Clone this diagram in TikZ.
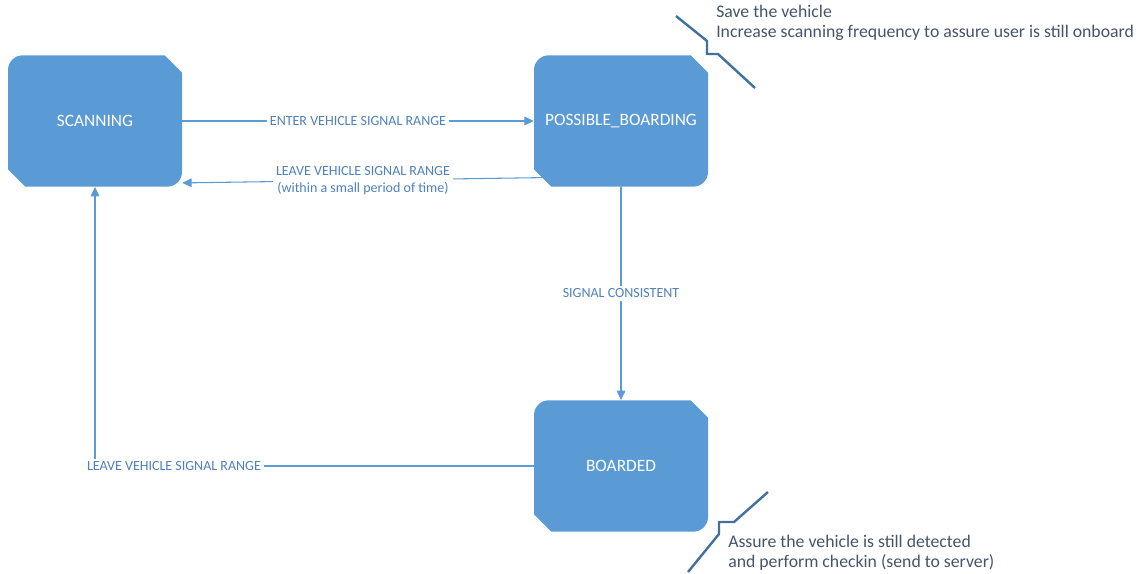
\documentclass[tikz,border=0pt]{standalone}
\usepackage{fontspec}
\setmainfont{Carlito}
\usetikzlibrary{arrows.meta}
\definecolor{boxblue}{RGB}{91,155,213}
\definecolor{lineblue}{RGB}{91,155,213}
\definecolor{labelblue}{RGB}{79,129,189}
\definecolor{noteblue}{RGB}{65,113,156}
\definecolor{notetext}{RGB}{68,84,106}
\begin{document}
\begin{tikzpicture}[x=0.75pt,y=-0.75pt,line cap=round,line join=round,>={Triangle[length=7pt,width=6.5pt]},
  state/.style={minimum width=130.5pt,minimum height=98.5pt,inner sep=0pt,text=white,font=\fontsize{13}{15}\selectfont,
    path picture={\fill[boxblue] ([yshift=-11pt]path picture bounding box.north west)
      arc[start angle=180,end angle=90,radius=11pt] -- ([xshift=-13pt]path picture bounding box.north east)
      -- ([yshift=-13pt]path picture bounding box.north east) -- ([yshift=11pt]path picture bounding box.south east)
      arc[start angle=0,end angle=-90,radius=11pt] -- ([xshift=13pt]path picture bounding box.south west)
      -- ([yshift=13pt]path picture bounding box.south west) -- cycle;}},
  trans/.style={draw=lineblue,line width=0.8pt},
  lbl/.style={fill=white,text=labelblue,inner sep=2pt,font=\fontsize{10.5}{12.75}\selectfont,align=center},
  note/.style={text=notetext,font=\fontsize{13.3}{15.3}\selectfont,align=left,inner sep=0pt},
  callout/.style={draw=noteblue,line width=1.8pt,line cap=butt,line join=miter}]
  \useasboundingbox (0,0) rectangle (1140,574);
  % states
  \node[state] (scan) at (95,121) {SCANNING};
  \node[state] (pb) at (621,121) {POSSIBLE\_BOARDING};
  \node[state] (brd) at (621,466) {BOARDED};
  % transitions
  \draw[trans,->] (scan.east) -- node[lbl] {ENTER VEHICLE SIGNAL RANGE} (pb.west);
  \draw[trans,->] ([xshift=7.5pt,yshift=7pt]pb.south west) -- node[lbl] {LEAVE VEHICLE SIGNAL RANGE\\(within a small period of time)} ([yshift=3pt]scan.south east);
  \draw[trans,->] (pb.south) -- node[lbl] {SIGNAL CONSISTENT} (brd.north);
  \draw[trans,->] (brd.west) -| node[lbl,pos=0.41] {LEAVE VEHICLE SIGNAL RANGE} (scan.south);
  % notes
  \draw[callout] (676,16) -- (707,41) -- (707,54) -- (718,54) -- (755,88);
  \node[note,anchor=north west] (savenote) at (716,5) {Save the vehicle\\Increase scanning frequency to assure user is still onboard};
  \draw[callout] (768,492) -- (734,522) -- (719,522) -- (719,534) -- (688,572);
  \node[note,anchor=north west] (checknote) at (728,535) {Assure the vehicle is still detected\\and perform checkin (send to server)};
\end{tikzpicture}
\end{document}
